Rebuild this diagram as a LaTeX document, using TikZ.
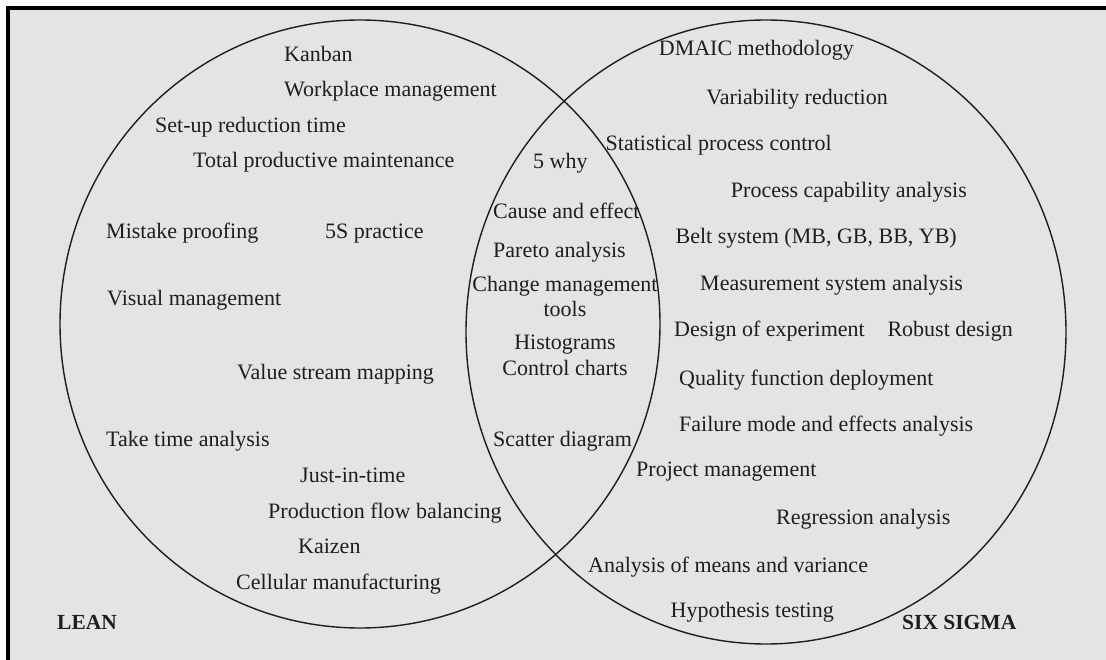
\documentclass[tikz,border=0pt]{standalone}
\usepackage{fontspec}
\setmainfont{Liberation Serif}
\definecolor{panel}{HTML}{E4E4E4}
\definecolor{ink}{HTML}{1E1E1E}
\begin{document}
\begin{tikzpicture}[x=1pt,y=-1pt,
  txt/.style={inner sep=0pt, yshift=-6pt, text=ink, font=\fontsize{22}{25}\selectfont},
  item/.style={txt, anchor=base west},
  ritem/.style={txt, anchor=base east},
  citem/.style={txt, anchor=base, align=center},
  setname/.style={anchor=base west, yshift=-6pt, inner sep=0pt, text=ink,
                  font=\bfseries\fontsize{21.5}{24}\selectfont},
  ring/.style={draw=ink, line width=1.4pt}]
\useasboundingbox (0,0) rectangle (1106,660);
\fill[white] (0,0) rectangle (1106,660);
\fill[panel] (8,8) rectangle (1106,660);
\draw[line width=4pt] (8,660) -- (8,8) -- (1106,8);

% the two overlapping sets
\draw[ring] (360,324) ellipse [x radius=300, y radius=304];
\draw[ring] (766,332) ellipse [x radius=300, y radius=312];

% Lean tools
\node[item] (kanban)   at (284,56)  {Kanban};
\node[item] (wpm)      at (284,91)  {Workplace management};
\node[item] (setup)    at (155,127) {Set-up reduction time};
\node[item] (tpm)      at (193,162) {Total productive maintenance};
\node[item] (poka)     at (106,233) {Mistake proofing};
\node[item] (fives)    at (325,233) {5S practice};
\node[item] (visual)   at (107,300) {Visual management};
\node[item] (vsm)      at (237,374) {Value stream mapping};
\node[item] (takt)     at (106,440) {Take time analysis};
\node[item] (jit)      at (300,476) {Just-in-time};
\node[item] (flow)     at (268,512) {Production flow balancing};
\node[item] (kaizen)   at (298,547) {Kaizen};
\node[item] (cell)     at (236,583) {Cellular manufacturing};
\node[setname] (lean)  at (57,623)  {LEAN};

% shared tools
\node[item] (why)      at (533,163) {5 why};
\node[item] (cause)    at (493,213) {Cause and effect};
\node[item] (pareto)   at (493,252) {Pareto analysis};
\node[citem] (change)  at (565,311) {Change management\\tools};
\node[citem] (hist)    at (565,369) {Histograms\\Control charts};
\node[item] (scatter)  at (493,440) {Scatter diagram};

% Six Sigma tools
\node[ritem] (dmaic)   at (854,50)  {DMAIC methodology};
\node[ritem] (var)     at (888,99)  {Variability reduction};
\node[ritem] (spc)     at (832,145) {Statistical process control};
\node[ritem] (pca)     at (967,192) {Process capability analysis};
\node[ritem] (belt)    at (957,238) {Belt system (MB, GB, BB, YB)};
\node[item] (msa)      at (700,285) {Measurement system analysis};
\node[item] (doe)      at (674,331) {Design of experiment};
\node[ritem] (robust)  at (1013,331) {Robust design};
\node[item] (qfd)      at (679,379) {Quality function deployment};
\node[item] (fmea)     at (679,425) {Failure mode and effects analysis};
\node[item] (pm)       at (636,470) {Project management};
\node[item] (regr)     at (776,518) {Regression analysis};
\node[item] (anova)    at (588,566) {Analysis of means and variance};
\node[ritem] (hyp)     at (834,611) {Hypothesis testing};
\node[setname] (six)   at (902,623) {SIX SIGMA};
\end{tikzpicture}
\end{document}
